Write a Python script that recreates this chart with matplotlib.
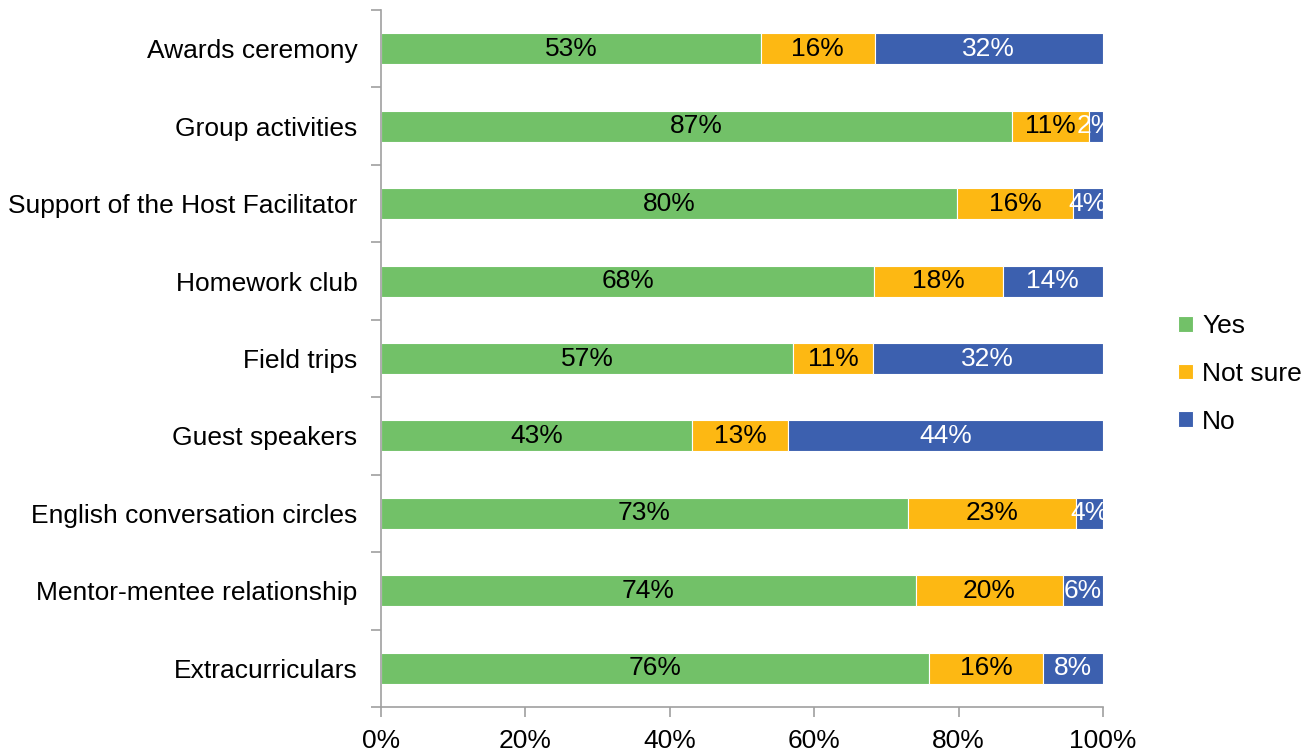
import matplotlib.pyplot as plt
import numpy as np

plt.rcParams['font.family'] = ['Liberation Sans', 'DejaVu Sans']

# categories from bottom to top
categories = ['Extracurriculars', 'Mentor-mentee relationship', 'English conversation circles',
              'Guest speakers', 'Field trips', 'Homework club',
              'Support of the Host Facilitator', 'Group activities', 'Awards ceremony']
yes = [0.759, 0.741, 0.730, 0.431, 0.571, 0.683, 0.798, 0.874, 0.526]
not_sure = [0.158, 0.203, 0.233, 0.133, 0.110, 0.178, 0.160, 0.107, 0.158]
no = [0.083, 0.056, 0.037, 0.436, 0.319, 0.139, 0.042, 0.019, 0.316]

series = [('Yes', yes, '#72C168', 'black'),
          ('Not sure', not_sure, '#FDB813', 'black'),
          ('No', no, '#3C60AF', 'white')]

fs = 19

fig = plt.figure(figsize=(13.14, 7.54), dpi=100)
ax = fig.add_axes([0.29, 0.0623, 0.5494, 0.9244])

y = np.arange(len(categories))
left = np.zeros(len(categories))
for name, vals, color, tcolor in series:
    vals = np.array(vals)
    bars = ax.barh(y, vals, left=left, height=0.4, color=color,
                   edgecolor='white', linewidth=0.8, label=name)
    ax.bar_label(bars, labels=['{:.0f}%'.format(v * 100) for v in vals],
                 label_type='center', color=tcolor, fontsize=fs)
    left += vals

ax.set_xlim(0, 1)
ax.set_ylim(-0.5, len(categories) - 0.5)
ax.set_xticks(np.arange(0, 1.01, 0.2))
ax.set_xticklabels(['{:.0f}%'.format(t * 100) for t in np.arange(0, 1.01, 0.2)], fontsize=fs)
ax.set_yticks(y)
ax.set_yticklabels(categories, fontsize=fs)
ax.set_yticks(np.arange(-0.5, len(categories)), minor=True)
ax.tick_params(axis='y', which='major', length=0, pad=17)
ax.tick_params(axis='y', which='minor', length=7, width=1.2, color='#A0A0A0')
ax.tick_params(axis='x', length=7, width=1.2, color='#A0A0A0', pad=9)

for s in ['top', 'right']:
    ax.spines[s].set_visible(False)
for s in ['left', 'bottom']:
    ax.spines[s].set_color('#A0A0A0')
    ax.spines[s].set_linewidth(1.2)

ax.legend(loc='center left', bbox_to_anchor=(1.09, 0.478), frameon=False, fontsize=fs,
          handlelength=0.55, handleheight=0.55, handletextpad=0.35, labelspacing=0.9,
          borderaxespad=0)

fig.savefig('out.png', dpi=100)
